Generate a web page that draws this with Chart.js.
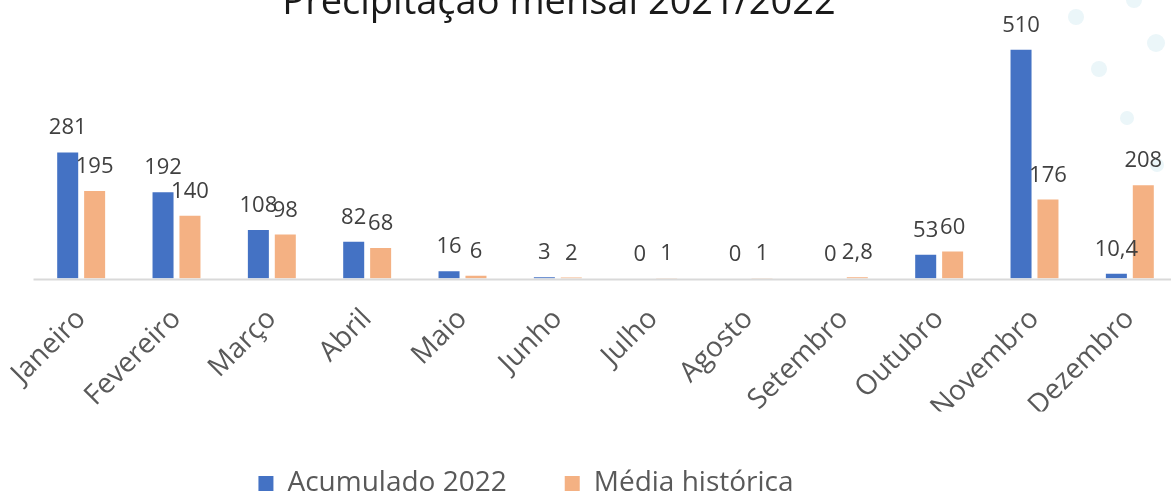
<!DOCTYPE html>
<html>
<head>
<meta charset="utf-8">
<script src="https://cdn.jsdelivr.net/npm/chart.js@4"></script>
<style>
  html, body { margin: 0; padding: 0; background: #fff; overflow: hidden; }
  #frame { position: relative; width: 1171px; height: 497px; overflow: hidden; }
  #box { position: absolute; left: 0; top: -40px; width: 1185px; height: 550px; }
</style>
</head>
<body>
<div id="frame"><div id="box"><canvas id="chuva"></canvas></div></div>
<script>
// dados
var meses = ['Janeiro', 'Fevereiro', 'Março', 'Abril', 'Maio', 'Junho', 'Julho', 'Agosto', 'Setembro', 'Outubro', 'Novembro', 'Dezembro'];
var acumulado2022 = [281, 192, 108, 82, 16, 3, 0, 0, 0, 53, 510, 10.4];
var mediaHistorica = [195, 140, 98, 68, 6, 2, 1, 1, 2.8, 60, 176, 208];
var titulo = 'Precipitação mensal 2021/2022';

var OFFSET_Y = 40; // o canvas começa 40px acima da janela (título cortado)

function formatar(v) {
  return String(v).replace('.', ',');
}

// bolinhas decorativas no canto superior direito
var bolinhas = {
  id: 'bolinhas',
  beforeDraw: function (chart) {
    var ctx = chart.ctx;
    var pts = [[1134, 0, 8], [1076, 17, 8], [1156, 43, 9], [1099, 69, 8], [1127, 118, 7], [1157, 165, 7]];
    ctx.save();
    ctx.fillStyle = '#EBF6F9';
    pts.forEach(function (p) {
      ctx.beginPath();
      ctx.arc(p[0], p[1] + OFFSET_Y, p[2], 0, Math.PI * 2);
      ctx.fill();
    });
    ctx.restore();
  }
};

// linha do eixo x, da borda do primeiro grupo de barras até o fim
var linhaEixo = {
  id: 'linhaEixo',
  afterDatasetsDraw: function (chart) {
    var a = chart.getDatasetMeta(0).data;
    var b = chart.getDatasetMeta(1).data;
    var c0 = (a[0].x + b[0].x) / 2;
    var c1 = (a[1].x + b[1].x) / 2;
    var passo = c1 - c0;
    var ini = c0 - passo / 2;
    var fim = ini + passo * meses.length;
    var base = chart.scales.y.getPixelForValue(0) + 1;
    var ctx = chart.ctx;
    ctx.save();
    ctx.strokeStyle = '#D9D9D9';
    ctx.lineWidth = 2;
    ctx.beginPath();
    ctx.moveTo(ini, base);
    ctx.lineTo(fim, base);
    ctx.stroke();
    ctx.restore();
  }
};

// rótulos de valor em cima das barras
var rotulos = {
  id: 'rotulos',
  afterDatasetsDraw: function (chart) {
    var ctx = chart.ctx;
    ctx.save();
    ctx.font = '22px "Open Sans"';
    ctx.fillStyle = '#404040';
    ctx.textAlign = 'center';
    ctx.textBaseline = 'alphabetic';
    chart.data.datasets.forEach(function (ds, i) {
      chart.getDatasetMeta(i).data.forEach(function (bar, j) {
        ctx.fillText(formatar(ds.data[j]), bar.x, bar.y - 18);
      });
    });
    ctx.restore();
  }
};

// título e legenda deslocados para a esquerda como no original
var posicoes = {
  id: 'posicoes',
  afterLayout: function (chart) {
    var l = chart.legend;
    var d = 526 - (l.left + l.right) / 2;
    l.left += d;
    l.right += d;
    var t = chart.titleBlock;
    var dt = 559 - (t.left + t.right) / 2;
    t.left += dt;
    t.right += dt;
  }
};

var chart = new Chart(document.getElementById('chuva'), {
  type: 'bar',
  data: {
    labels: meses,
    datasets: [
      { label: 'Acumulado 2022', data: acumulado2022, backgroundColor: '#4472C4' },
      { label: 'Média histórica', data: mediaHistorica, backgroundColor: '#F4B183' }
    ]
  },
  options: {
    responsive: true,
    maintainAspectRatio: false,
    animation: false,
    categoryPercentage: 0.565,
    barPercentage: 0.78,
    layout: { padding: { left: 33.5, right: 7.5, top: 0, bottom: 2.5 } },
    plugins: {
      title: {
        display: true,
        text: titulo,
        color: '#1a1a1a',
        font: { family: 'Open Sans', size: 38, weight: 'normal' },
        padding: { top: 20, bottom: 1.6 }
      },
      legend: {
        position: 'bottom',
        labels: {
          color: '#595959',
          font: { family: 'Open Sans', size: 28 },
          boxWidth: 15,
          boxHeight: 15,
          padding: 58
        }
      },
      tooltip: { enabled: false }
    },
    scales: {
      x: {
        grid: { display: false, drawTicks: false },
        border: { display: false },
        afterFit: function (s) {
          s.height = 133;
          s.paddingLeft = 0;
          s.paddingRight = 0;
        },
        ticks: {
          autoSkip: false,
          minRotation: 45,
          maxRotation: 45,
          padding: 24,
          color: '#595959',
          font: { family: 'Open Sans', size: 28 }
        }
      },
      y: {
        display: false,
        min: 0,
        max: 560
      }
    }
  },
  plugins: [bolinhas, linhaEixo, rotulos, posicoes]
});
</script>
</body>
</html>
